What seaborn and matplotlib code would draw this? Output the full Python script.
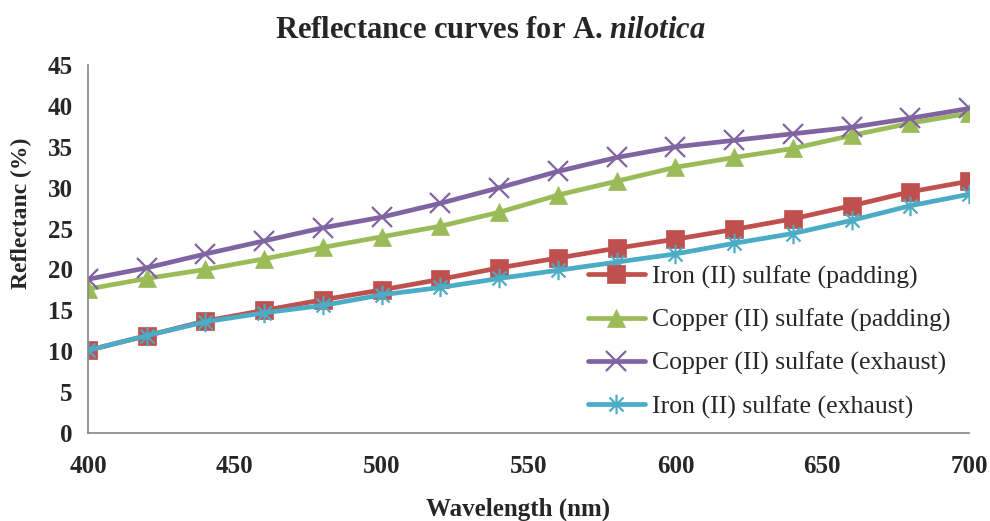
import numpy as np
import pandas as pd
import matplotlib
matplotlib.use("Agg")
import matplotlib.pyplot as plt
from matplotlib.path import Path
import seaborn as sns

wavelength = [400, 420, 440, 460, 480, 500, 520, 540, 560, 580, 600, 620, 640, 660, 680, 700]
iron_padding = [10.1, 11.9, 13.7, 15.0, 16.3, 17.5, 18.8, 20.2, 21.4, 22.6, 23.7, 24.9, 26.2, 27.8, 29.5, 30.8]
copper_padding = [17.6, 18.9, 20.0, 21.3, 22.7, 24.0, 25.3, 27.0, 29.1, 30.8, 32.5, 33.7, 34.8, 36.4, 37.9, 39.1]
copper_exhaust = [18.8, 20.2, 21.9, 23.5, 25.1, 26.4, 28.1, 30.0, 32.0, 33.7, 35.0, 35.8, 36.6, 37.4, 38.5, 39.7]
iron_exhaust = [10.1, 11.9, 13.6, 14.7, 15.6, 16.9, 17.8, 18.9, 19.9, 20.9, 21.9, 23.2, 24.4, 26.0, 27.8, 29.2]

labels = ["Iron (II) sulfate (padding)", "Copper (II) sulfate (padding)",
          "Copper (II) sulfate (exhaust)", "Iron (II) sulfate (exhaust)"]
series = [iron_padding, copper_padding, copper_exhaust, iron_exhaust]
colors = ["#C0504D", "#9BBB59", "#8064A2", "#4BACC6"]

star = Path([(0, -1), (0, 1), (-0.72, -0.72), (0.72, 0.72), (-0.72, 0.72), (0.72, -0.72)],
            [Path.MOVETO, Path.LINETO, Path.MOVETO, Path.LINETO, Path.MOVETO, Path.LINETO])
markers = ["s", "^", "x", star]
msizes = [13, 13, 14, 14]

sns.set_style("white")
plt.rcParams['font.family'] = ['Liberation Serif', 'DejaVu Serif']
plt.rcParams['mathtext.fontset'] = 'custom'
plt.rcParams['mathtext.it'] = 'Liberation Serif:italic:bold'
plt.rcParams['mathtext.rm'] = 'Liberation Serif:bold'

fig = plt.figure(figsize=(9.9, 5.21), dpi=100)
ax = fig.add_axes([0.0889, 0.169, 0.890, 0.706])

for lab, vals, c, m, ms in zip(labels, series, colors, markers, msizes):
    df = pd.DataFrame({"Wavelength": wavelength, "Reflectance": vals})
    sns.lineplot(data=df, x="Wavelength", y="Reflectance", ax=ax, color=c,
                 linewidth=3.4, marker=m, markersize=ms, markeredgecolor=c,
                 markeredgewidth=1.6 if (m == "x" or m is star) else 0.5,
                 label=lab)

ax.set_xlim(400, 700)
ax.set_ylim(0, 45)
ax.set_xticks(np.arange(400, 701, 50))
ax.set_yticks(np.arange(0, 46, 5))
for s in ["top", "right"]:
    ax.spines[s].set_visible(False)
for s in ["left", "bottom"]:
    ax.spines[s].set_color("#868686")
    ax.spines[s].set_linewidth(1.2)
ax.tick_params(axis="both", direction="out", length=6, width=1.2, color="#868686",
               labelsize=18, pad=5)
ax.tick_params(axis="x", pad=10)
for t in ax.get_xticklabels() + ax.get_yticklabels():
    t.set_fontweight("bold")

ax.set_xlabel("")
ax.set_ylabel("")
ax.grid(False)

fig.text(0.523, 1 - 509 / 521, "Wavelength (nm)", ha="center", va="center",
         fontsize=18, fontweight="bold")
fig.text(0.022, 1 - 213 / 521, "Reflectanc (%)", ha="center", va="center",
         rotation=90, fontsize=17, fontweight="bold")

fig.text(0.495, 1 - 31 / 521, r"Reflectance curves for A. $\mathit{nilotica}$", ha="center", va="center",
         fontsize=22, fontweight="bold")

leg = ax.legend(loc="center left", bbox_to_anchor=(0.594, 1 - 342 / 521),
                bbox_transform=fig.transFigure, frameon=False, fontsize=18.5,
                handlelength=2.2, labelspacing=0.78, handletextpad=0.3,
                borderaxespad=0, borderpad=0)

fig.savefig("out.png", dpi=100)
